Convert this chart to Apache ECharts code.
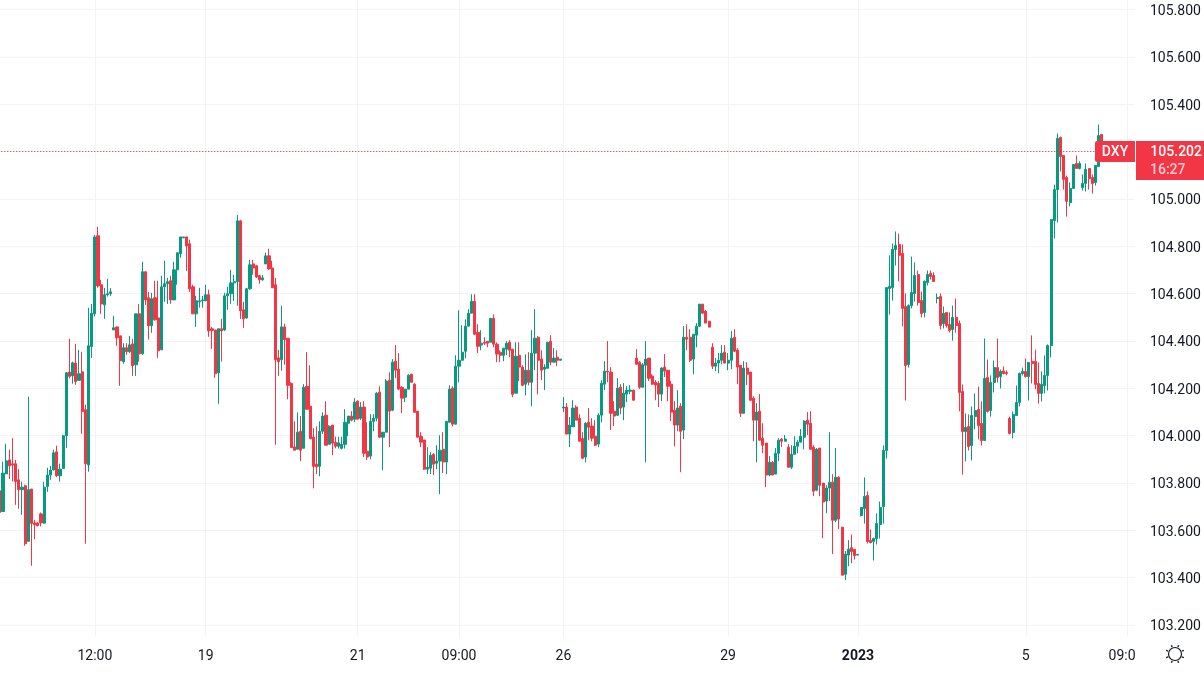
<!DOCTYPE html>
<html>
<head>
<meta charset="utf-8">
<title>DXY</title>
<script src="https://cdn.jsdelivr.net/npm/echarts@6/dist/echarts.min.js"></script>
<style>
  html, body { margin: 0; padding: 0; background: #fff; }
  #chart { width: 1204px; height: 678px; }
</style>
</head>
<body>
<div id="chart"></div>
<script>
// every row is [open, close, low, high]
var candlesA = [
  [103.767,103.675,103.675,103.767],[103.679,103.841,103.679,103.890],[103.838,103.893,103.838,103.965],[103.897,103.872,103.816,103.940],
  [103.881,103.875,103.806,103.989],[103.881,103.806,103.707,103.897],[103.813,103.771,103.691,103.858],[103.771,103.782,103.665,103.805],
  [103.788,103.543,103.534,103.792],[103.553,103.771,103.553,104.164],[103.774,103.629,103.450,103.774],[103.631,103.623,103.562,103.644],
  [103.630,103.619,103.616,103.633],[103.669,103.631,103.616,103.675],[103.630,103.782,103.627,103.805],[103.785,103.833,103.762,103.864],
  [103.833,103.854,103.813,103.872],[103.855,103.927,103.852,103.940],[103.931,103.830,103.824,103.957],[103.830,103.858,103.805,103.881],
  [103.861,103.999,103.861,104.003],[103.999,104.265,103.948,104.268],[104.268,104.250,104.241,104.409],[104.252,104.307,104.219,104.312],
  [104.306,104.228,104.214,104.387],[104.233,104.261,104.233,104.362],[104.269,104.102,104.007,104.354],[104.109,103.881,103.543,104.130],
  [103.876,104.379,103.847,104.540],[104.376,104.517,104.328,104.556],[104.514,104.839,104.503,104.848],[104.844,104.632,104.624,104.882],
  [104.637,104.556,104.514,104.658],[104.552,104.595,104.493,104.624],[104.595,104.599,104.587,104.662],[104.599,104.607,104.590,104.623],
  [104.446,104.455,104.446,104.506],[104.459,104.413,104.379,104.459],[104.421,104.316,104.210,104.421],[104.312,104.371,104.303,104.390],
  [104.371,104.354,104.341,104.390],[104.354,104.383,104.348,104.421],[104.387,104.295,104.252,104.409],[104.299,104.514,104.252,104.514],
  [104.514,104.345,104.312,104.556],[104.345,104.692,104.341,104.734],[104.692,104.573,104.552,104.692],[104.582,104.464,104.405,104.607],
  [104.464,104.578,104.434,104.603],[104.582,104.489,104.485,104.654],[104.497,104.358,104.328,104.654],[104.362,104.628,104.362,104.675],
  [104.628,104.641,104.565,104.738],[104.641,104.650,104.556,104.666],[104.654,104.573,104.556,104.675],[104.573,104.700,104.573,104.734],
  [104.700,104.772,104.637,104.772],[104.768,104.839,104.751,104.839],[104.835,104.839,104.835,104.839],[104.839,104.801,104.696,104.839],
  [104.810,104.620,104.607,104.827],[104.628,104.514,104.514,104.637],[104.514,104.569,104.459,104.590],[104.565,104.569,104.540,104.624],
  [104.569,104.573,104.540,104.590],[104.569,104.595,104.569,104.637],[104.595,104.442,104.417,104.616],[104.451,104.444,104.366,104.459],
  [104.446,104.261,104.244,104.446],[104.265,104.451,104.134,104.451],[104.451,104.442,104.312,104.493],[104.446,104.590,104.442,104.603],
  [104.590,104.599,104.531,104.628],[104.599,104.645,104.556,104.700],[104.645,104.650,104.569,104.679],[104.650,104.907,104.548,104.932],
  [104.907,104.527,104.493,104.911],[104.531,104.493,104.455,104.565],[104.497,104.620,104.493,104.624],[104.620,104.721,104.616,104.742],
  [104.725,104.708,104.679,104.742],[104.717,104.670,104.666,104.721],[104.675,104.658,104.641,104.679],[104.658,104.666,104.654,104.679],
  [104.725,104.759,104.725,104.772],[104.759,104.704,104.700,104.789],[104.708,104.624,104.624,104.738],[104.637,104.320,103.961,104.666],
  [104.328,104.312,104.252,104.362],[104.320,104.459,104.274,104.548],[104.459,104.405,104.299,104.472]
];
var candlesB = [
  [104.411,104.212,104.153,104.411],[104.221,103.949,103.949,104.225],[103.952,103.938,103.938,104.060],[103.942,104.014,103.942,104.098],
  [104.018,103.938,103.892,104.082],[103.946,104.204,103.946,104.217],[104.208,104.111,104.111,104.352],[104.124,103.986,103.986,104.297],
  [103.993,103.870,103.777,104.031],[103.879,103.868,103.837,104.039],[103.870,104.018,103.828,104.060],[104.018,104.082,104.006,104.098],
  [104.086,103.959,103.959,104.145],[103.963,104.039,103.963,104.044],[104.044,103.968,103.917,104.044],[103.972,103.955,103.946,103.995],
  [103.955,103.969,103.945,103.995],[103.946,103.963,103.941,103.995],[103.963,104.056,103.945,104.111],[104.052,104.082,103.997,104.082],
  [104.082,104.065,104.060,104.103],[104.069,104.141,104.056,104.158],[104.145,104.069,104.069,104.149],[104.073,104.120,104.065,104.141],
  [104.120,103.925,103.909,104.145],[103.934,103.909,103.896,104.056],[103.913,104.060,103.900,104.090],[104.060,104.073,104.018,104.090],
  [104.073,104.179,104.060,104.183],[104.183,103.993,103.989,104.208],[103.993,104.014,103.854,104.014],[104.014,104.230,104.014,104.238],
  [104.234,104.103,103.951,104.267],[104.107,104.310,104.103,104.323],[104.314,104.276,104.242,104.382],[104.280,104.196,104.192,104.348],
  [104.204,104.158,104.095,104.208],[104.162,104.196,104.141,104.196],[104.196,104.255,104.196,104.259],[104.259,104.225,104.225,104.259],
  [104.217,104.098,104.098,104.221],[104.103,103.993,103.993,104.103],[103.997,103.972,103.951,104.014],[103.981,103.858,103.854,103.981],
  [103.858,103.866,103.837,103.951],[103.862,103.917,103.837,103.930],[103.921,103.879,103.833,103.925],[103.883,103.892,103.858,103.959],
  [103.892,103.938,103.752,104.001],[103.942,103.888,103.841,104.014],[103.888,104.060,103.837,104.060],[104.056,104.196,104.056,104.212],
  [104.200,104.048,104.039,104.208],[104.048,104.293,104.048,104.339],[104.293,104.318,104.225,104.529],[104.318,104.352,104.318,104.466],
  [104.356,104.462,104.327,104.491],[104.462,104.517,104.462,104.534],[104.517,104.567,104.517,104.597],[104.567,104.428,104.424,104.597],
  [104.436,104.377,104.348,104.470],[104.382,104.390,104.360,104.445],[104.394,104.390,104.382,104.415],[104.398,104.390,104.373,104.398],
  [104.394,104.495,104.394,104.495],[104.495,104.386,104.373,104.512],[104.386,104.344,104.310,104.394],[104.352,104.339,104.310,104.360],
  [104.339,104.369,104.314,104.369],[104.365,104.390,104.339,104.398],[104.394,104.360,104.331,104.403],[104.365,104.174,104.162,104.365],
  [104.179,104.335,104.179,104.394],[104.339,104.289,104.230,104.394],[104.289,104.212,104.208,104.297],[104.217,104.276,104.170,104.343],
  [104.276,104.225,104.212,104.352],[104.225,104.348,104.124,104.445],[104.348,104.411,104.276,104.534],[104.415,104.318,104.174,104.420],
  [104.323,104.276,104.234,104.360],[104.280,104.289,104.192,104.301],[104.284,104.394,104.284,104.394],[104.398,104.310,104.297,104.424],
  [104.310,104.327,104.310,104.369],[104.331,104.318,104.293,104.360],[104.318,104.323,104.318,104.323]
];
var candlesC = [
  [104.116,104.120,104.099,104.162],[104.120,104.006,104.006,104.137],[104.006,104.044,103.951,104.078],[104.037,104.116,104.037,104.149],
  [104.120,104.065,104.065,104.128],[104.073,103.976,103.976,104.090],[103.987,103.904,103.900,104.014],[103.909,104.052,103.887,104.056],
  [104.056,104.035,103.980,104.116],[104.040,103.989,103.976,104.073],[103.997,103.959,103.955,104.065],[103.964,104.086,103.951,104.094],
  [104.086,104.221,104.056,104.234],[104.217,104.272,104.192,104.314],[104.272,104.268,104.225,104.399],[104.268,104.094,104.023,104.289],
  [104.103,104.082,104.040,104.145],[104.086,104.200,104.082,104.242],[104.204,104.116,104.090,104.217],[104.120,104.179,104.065,104.221],
  [104.175,104.192,104.141,104.208],[104.187,104.192,104.175,104.213],[104.192,104.149,104.149,104.192],[104.327,104.301,104.301,104.365],
  [104.310,104.204,104.196,104.314],[104.204,104.299,104.204,104.306],[104.297,104.323,103.887,104.399],[104.327,104.242,104.230,104.327],
  [104.251,104.217,104.213,104.259],[104.225,104.213,104.149,104.234],[104.221,104.175,104.120,104.230],[104.175,104.285,104.145,104.289],
  [104.289,104.272,104.247,104.344],[104.276,104.208,104.145,104.276],[104.217,104.099,104.061,104.230],[104.107,104.044,103.955,104.145],
  [104.044,104.116,104.018,104.192],[104.124,104.018,103.845,104.137],[104.023,104.415,103.985,104.462],[104.415,104.407,104.361,104.470],
  [104.415,104.318,104.310,104.449],[104.323,104.428,104.259,104.428],[104.424,104.462,104.373,104.475],[104.462,104.555,104.458,104.555],
  [104.555,104.517,104.513,104.555],[104.525,104.475,104.475,104.530],[104.483,104.458,104.458,104.483],[104.373,104.293,104.280,104.390],
  [104.293,104.306,104.272,104.327],[104.306,104.318,104.263,104.348],[104.318,104.348,104.301,104.382],[104.352,104.306,104.306,104.382],
  [104.306,104.318,104.276,104.348],[104.318,104.411,104.280,104.441],[104.415,104.356,104.352,104.449],[104.361,104.289,104.217,104.369],
  [104.297,104.094,104.078,104.297],[104.094,104.285,104.094,104.314],[104.285,104.259,104.213,104.310],[104.268,104.149,104.145,104.268],
  [104.158,104.065,103.976,104.166],[104.065,104.099,103.887,104.137],[104.103,103.980,103.980,104.175],[103.989,103.959,103.925,104.052],
  [103.968,103.833,103.782,103.968],[103.833,103.887,103.828,103.913],[103.887,103.833,103.833,103.892],[103.837,103.925,103.837,103.947],
  [103.925,103.980,103.892,103.989],[103.985,103.976,103.951,103.989],[103.976,103.985,103.976,104.002],[103.951,103.866,103.866,103.964],
  [103.866,103.921,103.858,103.959],[103.921,103.955,103.921,103.997],[103.955,103.972,103.925,103.980],[103.972,103.997,103.972,104.027],
  [103.993,104.061,103.942,104.065],[104.065,104.048,104.002,104.099],[104.052,103.942,103.942,104.103],[103.951,103.765,103.744,103.959],
  [103.769,103.942,103.765,103.947],[103.947,103.790,103.744,103.947],[103.799,103.719,103.566,103.799],[103.723,103.778,103.672,103.790],
  [103.778,103.803,103.723,104.014],[103.803,103.642,103.499,103.837],[103.642,103.824,103.634,103.947],[103.824,103.647,103.604,103.828],
  [103.613,103.410,103.410,103.613],[103.414,103.499,103.389,103.512],[103.495,103.520,103.448,103.558]
];
var candlesD = [
  [103.526,103.510,103.460,103.582],[103.519,103.493,103.476,103.519],[103.495,103.498,103.495,103.498],[103.662,103.696,103.658,103.696],
  [103.692,103.743,103.628,103.823],[103.747,103.552,103.544,103.764],[103.557,103.548,103.544,103.603],[103.552,103.565,103.472,103.569],
  [103.565,103.628,103.540,103.671],[103.624,103.696,103.565,103.721],[103.700,103.937,103.628,103.958],[103.937,104.625,103.903,104.625],
  [104.621,104.630,104.511,104.761],[104.625,104.786,104.570,104.811],[104.786,104.803,104.718,104.862],[104.807,104.761,104.651,104.853],
  [104.769,104.537,104.461,104.807],[104.545,104.296,104.148,104.600],[104.300,104.549,104.287,104.554],[104.549,104.604,104.537,104.756],
  [104.600,104.676,104.566,104.731],[104.680,104.562,104.549,104.697],[104.570,104.516,104.499,104.608],[104.520,104.651,104.499,104.655],
  [104.646,104.680,104.634,104.697],[104.685,104.672,104.659,104.697],[104.676,104.651,104.651,104.689],[104.579,104.583,104.558,104.600],
  [104.587,104.465,104.448,104.600],[104.473,104.516,104.452,104.545],[104.520,104.465,104.456,104.520],[104.469,104.444,104.435,104.520],
  [104.448,104.499,104.401,104.549],[104.499,104.465,104.435,104.579],[104.473,104.182,104.102,104.486],[104.186,104.017,103.835,104.216],
  [104.017,104.034,103.890,104.093],[104.038,103.954,103.937,104.089],[103.958,104.085,103.895,104.123],[104.080,104.106,104.026,104.178],
  [104.110,104.042,103.983,104.207],[104.051,103.979,103.958,104.144],[103.979,104.241,103.979,104.410],[104.245,104.102,104.097,104.321],
  [104.106,104.224,104.080,104.254],[104.224,104.287,104.182,104.317],[104.287,104.245,104.224,104.410],[104.249,104.271,104.199,104.279],
  [104.273,104.262,104.258,104.292],[104.266,104.262,104.254,104.275],[104.072,104.009,104.004,104.080],[104.013,104.089,103.988,104.102],
  [104.085,104.140,104.085,104.211],[104.140,104.262,104.123,104.266],[104.262,104.271,104.254,104.287],[104.271,104.249,104.245,104.325],
  [104.249,104.309,104.148,104.309],[104.313,104.304,104.220,104.423],[104.313,104.216,104.195,104.363],[104.220,104.178,104.135,104.309],
  [104.178,104.216,104.144,104.271],[104.211,104.254,104.178,104.338],[104.254,104.380,104.190,104.385],[104.380,104.913,104.330,104.913],
  [104.908,105.039,104.832,105.060],[105.039,105.255,104.900,105.276],[105.259,105.179,105.115,105.263],[105.183,105.082,105.039,105.183],
  [105.090,104.989,104.925,105.098],[104.984,105.044,104.968,105.069],[105.044,105.145,105.044,105.145],[105.149,105.128,105.128,105.183],
  [105.128,105.149,105.124,105.158],[105.048,105.065,105.035,105.103],[105.065,105.124,105.031,105.149],[105.128,105.086,105.039,105.128],
  [105.090,105.065,105.022,105.103],[105.069,105.141,105.056,105.141],[105.136,105.267,105.136,105.314],[105.272,105.202,105.202,105.272]
];

var tickIndex = [30, 65, 113, 145, 178, 230, 271, 324, 356];
var tickLabels = ['12:00', '19', '21', '09:00', '26', '29', '2023', '5', '09:0'];
var priceTicks = [103.2, 103.4, 103.6, 103.8, 104.0, 104.2, 104.4, 104.6, 104.8, 105.0, 105.2, 105.4, 105.6, 105.8];
var lastPrice = 105.202;
var slotCount = 359; // empty slots keep the space right of the last candle

var GREEN = '#089981';
var RED = '#f23645';
var INK = '#131722';
var FONT = 'Roboto, "Noto Sans", sans-serif';

var candles = candlesA.concat(candlesB, candlesC, candlesD);
var categories = [];
for (var i = 0; i < slotCount; i++) {
  var pos = tickIndex.indexOf(i);
  categories.push(pos >= 0 ? tickLabels[pos] : '');
}
function isTick (index) {
  return tickIndex.indexOf(index) >= 0;
}

// sun icon in the corner
var sunRays = [];
for (var r = 0; r < 8; r++) {
  var a = r * Math.PI / 4 + Math.PI / 8;
  sunRays.push({
    type: 'line',
    shape: { x1: 1175 + 7.5 * Math.cos(a), y1: 654 + 7.5 * Math.sin(a), x2: 1175 + 9.5 * Math.cos(a), y2: 654 + 9.5 * Math.sin(a) },
    style: { stroke: INK, lineWidth: 1.4 }
  });
}

var chart = echarts.init(document.getElementById('chart'));
chart.setOption({
  animation: false,
  backgroundColor: '#fff',
  textStyle: { fontFamily: FONT },
  // the plot starts a little off the page, the first candle is cut
  grid: { left: -1.75, top: -0.5, width: 1136.75, height: 637, outerBoundsMode: 'none' },
  xAxis: {
    type: 'category',
    data: categories,
    boundaryGap: true,
    axisLine: { show: false },
    axisTick: { show: false, alignWithLabel: true },
    splitLine: {
      show: true,
      alignWithLabel: true,
      interval: isTick,
      lineStyle: { color: '#f2f3f5', width: 1 }
    },
    axisLabel: {
      interval: isTick,
      color: INK,
      fontSize: 14,
      fontFamily: FONT,
      margin: 13,
      formatter: function (value) {
        if (value === '2023') return '{year|2023}';
        if (value === '09:0') return '{cut|09:0}';
        return value;
      },
      rich: {
        year: { fontWeight: 'bold', fontSize: 14, fontFamily: FONT, color: INK },
        cut: { fontSize: 14, fontFamily: FONT, color: INK, padding: [0, 10, 0, 0] }
      }
    }
  },
  yAxis: {
    type: 'value',
    position: 'right',
    min: 103.151,
    max: 105.842,
    axisLine: { show: false },
    axisTick: { show: false, customValues: priceTicks },
    splitLine: { show: true, lineStyle: { color: '#f2f3f5', width: 1 } },
    axisLabel: {
      customValues: priceTicks,
      color: INK,
      fontSize: 14,
      fontFamily: FONT,
      margin: 15,
      verticalAlign: 'top',
      lineHeight: 4,
      formatter: function (value) {
        return value.toFixed(3);
      }
    }
  },
  series: [{
    type: 'candlestick',
    data: candles,
    barWidth: 2.6,
    clip: false,
    itemStyle: {
      color: GREEN,
      color0: RED,
      borderColor: GREEN,
      borderColor0: RED,
      borderWidth: 1
    },
    markLine: {
      silent: true,
      symbol: 'none',
      animation: false,
      label: { show: false },
      lineStyle: { color: '#e0213a', type: [1, 2], width: 1 },
      data: [{ yAxis: lastPrice }]
    }
  }],
  graphic: [
    { type: 'rect', shape: { x: 1095, y: 141, width: 40, height: 21, r: [2, 0, 0, 2] }, style: { fill: RED }, z: 100 },
    { type: 'text', x: 1115, y: 152, z: 101, style: { text: 'DXY', fill: '#fff', font: '500 14px ' + FONT, textAlign: 'center', textVerticalAlign: 'middle' } },
    { type: 'rect', shape: { x: 1136, y: 141, width: 68, height: 39 }, style: { fill: RED }, z: 100 },
    { type: 'text', x: 1202, y: 152, z: 101, style: { text: lastPrice.toFixed(3), fill: '#fff', font: '500 14px ' + FONT, textAlign: 'right', textVerticalAlign: 'middle' } },
    { type: 'text', x: 1150, y: 170, z: 101, style: { text: '16:27', fill: 'rgba(255,255,255,0.75)', font: '500 14px ' + FONT, textAlign: 'left', textVerticalAlign: 'middle' } },
    { type: 'circle', shape: { cx: 1175, cy: 654, r: 6.5 }, style: { fill: 'none', stroke: INK, lineWidth: 1.2 } },
    { type: 'group', children: sunRays }
  ]
});
</script>
</body>
</html>
